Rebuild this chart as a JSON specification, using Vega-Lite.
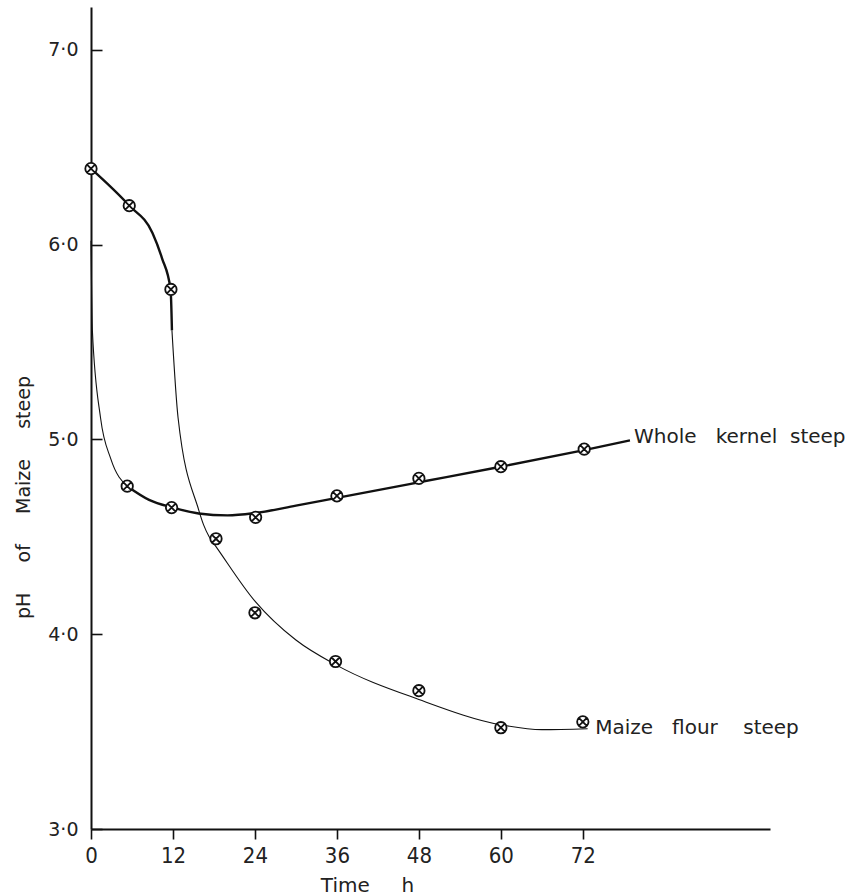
{
  "$schema": "https://vega.github.io/schema/vega-lite/v6.json",
  "width": 679,
  "height": 822,
  "autosize": {"type": "none"},
  "padding": {"left": 91, "top": 7, "right": 88, "bottom": 67},
  "background": "white",
  "config": {"view": {"stroke": null}, "font": "DejaVu Sans"},
  "datasets": {
    "points": [
      {"series": "Maize flour steep", "hours": 0, "pH": 6.39},
      {"series": "Maize flour steep", "hours": 5.6, "pH": 6.2},
      {"series": "Maize flour steep", "hours": 11.7, "pH": 5.77},
      {"series": "Maize flour steep", "hours": 18.3, "pH": 4.49},
      {"series": "Maize flour steep", "hours": 24, "pH": 4.11},
      {"series": "Maize flour steep", "hours": 35.8, "pH": 3.86},
      {"series": "Maize flour steep", "hours": 48, "pH": 3.71},
      {"series": "Maize flour steep", "hours": 60, "pH": 3.52},
      {"series": "Maize flour steep", "hours": 72, "pH": 3.55},
      {"series": "Whole kernel steep", "hours": 5.3, "pH": 4.76},
      {"series": "Whole kernel steep", "hours": 11.8, "pH": 4.65},
      {"series": "Whole kernel steep", "hours": 24.1, "pH": 4.6},
      {"series": "Whole kernel steep", "hours": 36, "pH": 4.71},
      {"series": "Whole kernel steep", "hours": 48, "pH": 4.8},
      {"series": "Whole kernel steep", "hours": 60, "pH": 4.86},
      {"series": "Whole kernel steep", "hours": 72.2, "pH": 4.95}
    ],
    "curves": [
      {"curve": "flour-early", "hours": 0, "pH": 6.39},
      {"curve": "flour-early", "hours": 5.6, "pH": 6.2},
      {"curve": "flour-early", "hours": 9.0, "pH": 6.06},
      {"curve": "flour-early", "hours": 10.4, "pH": 5.93},
      {"curve": "flour-early", "hours": 11.65, "pH": 5.77},
      {"curve": "flour-early", "hours": 11.85, "pH": 5.56},
      {"curve": "flour-late", "hours": 11.85, "pH": 5.56},
      {"curve": "flour-late", "hours": 12.75, "pH": 5.11},
      {"curve": "flour-late", "hours": 15.75, "pH": 4.64},
      {"curve": "flour-late", "hours": 16.5, "pH": 4.56},
      {"curve": "flour-late", "hours": 17.3, "pH": 4.5},
      {"curve": "flour-late", "hours": 18.3, "pH": 4.45},
      {"curve": "flour-late", "hours": 24, "pH": 4.17},
      {"curve": "flour-late", "hours": 30, "pH": 3.97},
      {"curve": "flour-late", "hours": 36, "pH": 3.84},
      {"curve": "flour-late", "hours": 48, "pH": 3.665},
      {"curve": "flour-late", "hours": 60, "pH": 3.535},
      {"curve": "flour-late", "hours": 66, "pH": 3.51},
      {"curve": "flour-late", "hours": 72.7, "pH": 3.515},
      {"curve": "kernel-early", "hours": 0, "pH": 6.02},
      {"curve": "kernel-early", "hours": 0.2, "pH": 5.56},
      {"curve": "kernel-early", "hours": 1.4, "pH": 5.11},
      {"curve": "kernel-early", "hours": 2.9, "pH": 4.9},
      {"curve": "kernel-early", "hours": 5.3, "pH": 4.76},
      {"curve": "kernel-late", "hours": 5.3, "pH": 4.76},
      {"curve": "kernel-late", "hours": 8.5, "pH": 4.69},
      {"curve": "kernel-late", "hours": 12, "pH": 4.65},
      {"curve": "kernel-late", "hours": 15.75, "pH": 4.62},
      {"curve": "kernel-late", "hours": 20, "pH": 4.61},
      {"curve": "kernel-late", "hours": 24, "pH": 4.622},
      {"curve": "kernel-late", "hours": 30, "pH": 4.66},
      {"curve": "kernel-late", "hours": 36, "pH": 4.7},
      {"curve": "kernel-late", "hours": 48, "pH": 4.78},
      {"curve": "kernel-late", "hours": 60, "pH": 4.86},
      {"curve": "kernel-late", "hours": 72.2, "pH": 4.945},
      {"curve": "kernel-late", "hours": 78.9, "pH": 4.995}
    ],
    "labels": [
      {"hours": 79.5, "pH": 4.98, "label": "Whole\u00a0\u00a0\u00a0kernel\u00a0\u00a0steep"},
      {"hours": 73.8, "pH": 3.49, "label": "Maize\u00a0\u00a0\u00a0flour\u00a0\u00a0\u00a0\u00a0steep"}
    ]
  },
  "encoding": {
    "x": {
      "field": "hours",
      "type": "quantitative",
      "scale": {"domain": [0, 99.4], "nice": false, "zero": false},
      "axis": {
        "values": [0, 12, 24, 36, 48, 60, 72],
        "grid": false,
        "tickSize": 10,
        "tickWidth": 1.6,
        "tickColor": "#111",
        "domainColor": "#111",
        "domainWidth": 2,
        "labelPadding": 6,
        "labelFont": "Liberation Sans Narrow, DejaVu Sans Condensed, sans-serif",
        "labelFontSize": 22,
        "labelColor": "#222",
        "labelFlush": false,
        "labelOverlap": false,
        "title": "Time\u00a0\u00a0\u00a0\u00a0\u00a0h",
        "titleFont": "DejaVu Sans",
        "titleFontSize": 20,
        "titleFontWeight": "normal",
        "titleColor": "#222",
        "titleX": 276,
        "titleY": 56,
        "titleAlign": "center",
        "titleBaseline": "middle"
      }
    },
    "y": {
      "field": "pH",
      "type": "quantitative",
      "scale": {"domain": [3, 7.22], "nice": false, "zero": false},
      "axis": {
        "values": [3, 4, 5, 6, 7],
        "grid": false,
        "tickSize": -11,
        "tickWidth": 1.6,
        "tickColor": "#111",
        "domainColor": "#111",
        "domainWidth": 2,
        "labelPadding": 24,
        "labelFont": "DejaVu Sans",
        "labelFontSize": 19,
        "labelColor": "#222",
        "labelFlush": false,
        "labelOverlap": false,
        "labelExpr": "replace(format(datum.value, '.1f'), '.', '·')",
        "title": "pH\u00a0\u00a0\u00a0\u00a0\u00a0of\u00a0\u00a0\u00a0\u00a0\u00a0Maize\u00a0\u00a0\u00a0\u00a0\u00a0steep",
        "titleFont": "DejaVu Sans",
        "titleFontSize": 19,
        "titleFontWeight": "normal",
        "titleColor": "#222",
        "titleAngle": 270,
        "titleX": -68,
        "titleY": 490,
        "titleAlign": "center",
        "titleBaseline": "middle"
      }
    }
  },
  "layer": [
    {
      "data": {"name": "curves"},
      "transform": [{"filter": "datum.curve == 'flour-early' || datum.curve == 'kernel-late'"}],
      "mark": {"type": "line", "interpolate": "monotone", "color": "#111", "strokeWidth": 2.4},
      "encoding": {"detail": {"field": "curve", "type": "nominal"}}
    },
    {
      "data": {"name": "curves"},
      "transform": [{"filter": "datum.curve == 'flour-late' || datum.curve == 'kernel-early'"}],
      "mark": {"type": "line", "interpolate": "monotone", "color": "#111", "strokeWidth": 1.1},
      "encoding": {"detail": {"field": "curve", "type": "nominal"}}
    },
    {
      "data": {"name": "points"},
      "mark": {
        "type": "point",
        "shape": "M-1,0A1,1,0,1,1,1,0A1,1,0,1,1,-1,0Z M-0.7,-0.7L0.7,0.7 M-0.7,0.7L0.7,-0.7",
        "size": 130,
        "filled": true,
        "fill": "white",
        "fillOpacity": 1,
        "stroke": "#111",
        "strokeWidth": 1.8,
        "opacity": 1
      }
    },
    {
      "data": {"name": "labels"},
      "mark": {"type": "text", "align": "left", "baseline": "alphabetic", "fontSize": 20, "font": "DejaVu Sans", "color": "#222"},
      "encoding": {"text": {"field": "label", "type": "nominal"}}
    }
  ]
}
